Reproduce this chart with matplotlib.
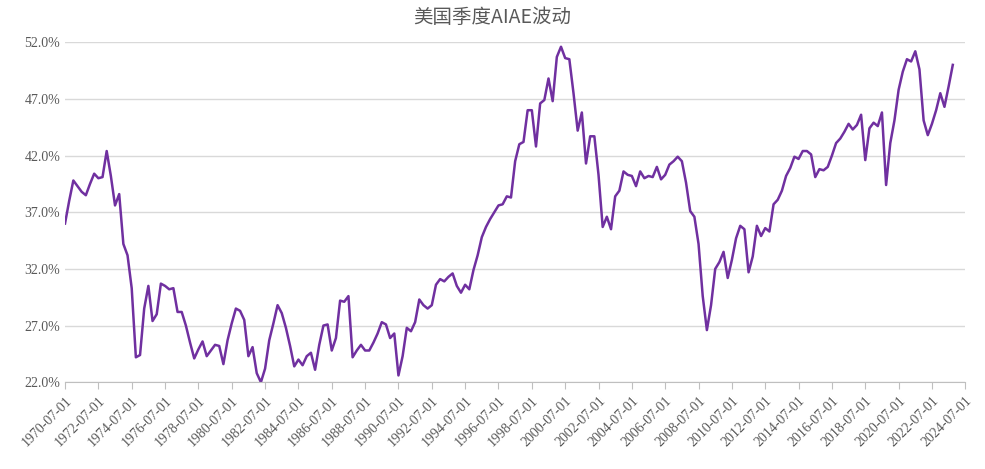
import matplotlib
matplotlib.use("Agg")
import matplotlib.pyplot as plt

values = [36.0,38.0,39.8,39.3,38.8,38.5,39.5,40.4,40.0,40.1,42.4,40.2,37.6,38.6,34.2,33.2,30.3,24.2,24.4,28.5,
30.5,27.4,28.0,30.7,30.5,30.2,30.3,28.2,28.2,27.0,25.5,24.1,24.9,25.6,24.3,24.8,25.3,25.2,23.6,25.7,
27.2,28.5,28.3,27.5,24.3,25.1,22.8,22.0,23.2,25.7,27.2,28.8,28.1,26.8,25.2,23.4,24.0,23.5,24.3,24.6,
23.1,25.3,27.0,27.1,24.8,25.9,29.2,29.1,29.6,24.2,24.8,25.3,24.8,24.8,25.5,26.3,27.3,27.1,25.9,26.3,
22.6,24.3,26.8,26.5,27.3,29.3,28.8,28.5,28.8,30.6,31.1,30.9,31.3,31.6,30.5,29.9,30.6,30.2,31.9,33.2,
34.8,35.7,36.4,37.0,37.6,37.7,38.4,38.3,41.5,43.0,43.2,46.0,46.0,42.8,46.6,46.9,48.8,46.8,50.7,51.6,
50.6,50.5,47.5,44.2,45.8,41.3,43.7,43.7,40.3,35.7,36.6,35.5,38.4,38.9,40.6,40.3,40.2,39.3,40.6,40.0,
40.2,40.1,41.0,39.9,40.3,41.2,41.5,41.9,41.5,39.6,37.1,36.6,34.2,29.6,26.6,28.8,32.0,32.6,33.5,31.2,
32.8,34.7,35.8,35.5,31.7,33.1,35.8,34.9,35.6,35.3,37.7,38.1,38.9,40.2,40.9,41.9,41.7,42.4,42.4,42.1,
40.1,40.8,40.7,41.0,42.0,43.1,43.5,44.1,44.8,44.3,44.7,45.6,41.6,44.4,44.9,44.6,45.8,39.4,43.1,45.1,
47.8,49.4,50.5,50.3,51.2,49.6,45.1,43.8,44.8,46.0,47.5,46.3,48.1,50.0]
tick_labels = [f"{y}-07-01" for y in range(1970, 2025, 2)]
yticks = [22, 27, 32, 37, 42, 47, 52]

plt.rcParams['font.family'] = ['Noto Sans CJK SC', 'DejaVu Sans']
fig = plt.figure(figsize=(9.85, 4.69), dpi=100)
ax = fig.add_axes([0.066, 0.185, 0.914, 0.725])
ax.plot(range(len(values)), values, color='#7030A0', lw=1.8)
ax.set_xlim(0, 216)
ax.set_ylim(22, 52)
ax.set_yticks(yticks)
ax.set_yticklabels([f"{v:.1f}%" for v in yticks], color='#595959', fontsize=10, family='Liberation Serif')
ax.set_xticks(range(0, 217, 8))
ax.set_xticklabels(tick_labels, rotation=45, ha='right', rotation_mode='anchor',
                   color='#595959', fontsize=10, family='Liberation Serif')
ax.grid(axis='y', color='#d9d9d9', lw=1)
ax.set_axisbelow(True)
for s in ['top', 'right', 'left']:
    ax.spines[s].set_visible(False)
ax.spines['bottom'].set_color('#bfbfbf')
ax.tick_params(axis='y', length=0)
ax.tick_params(axis='x', color='#bfbfbf', length=5)
fig.suptitle('美国季度AIAE波动', y=0.985, fontsize=14, color='#595959')
fig.savefig('out.png')
